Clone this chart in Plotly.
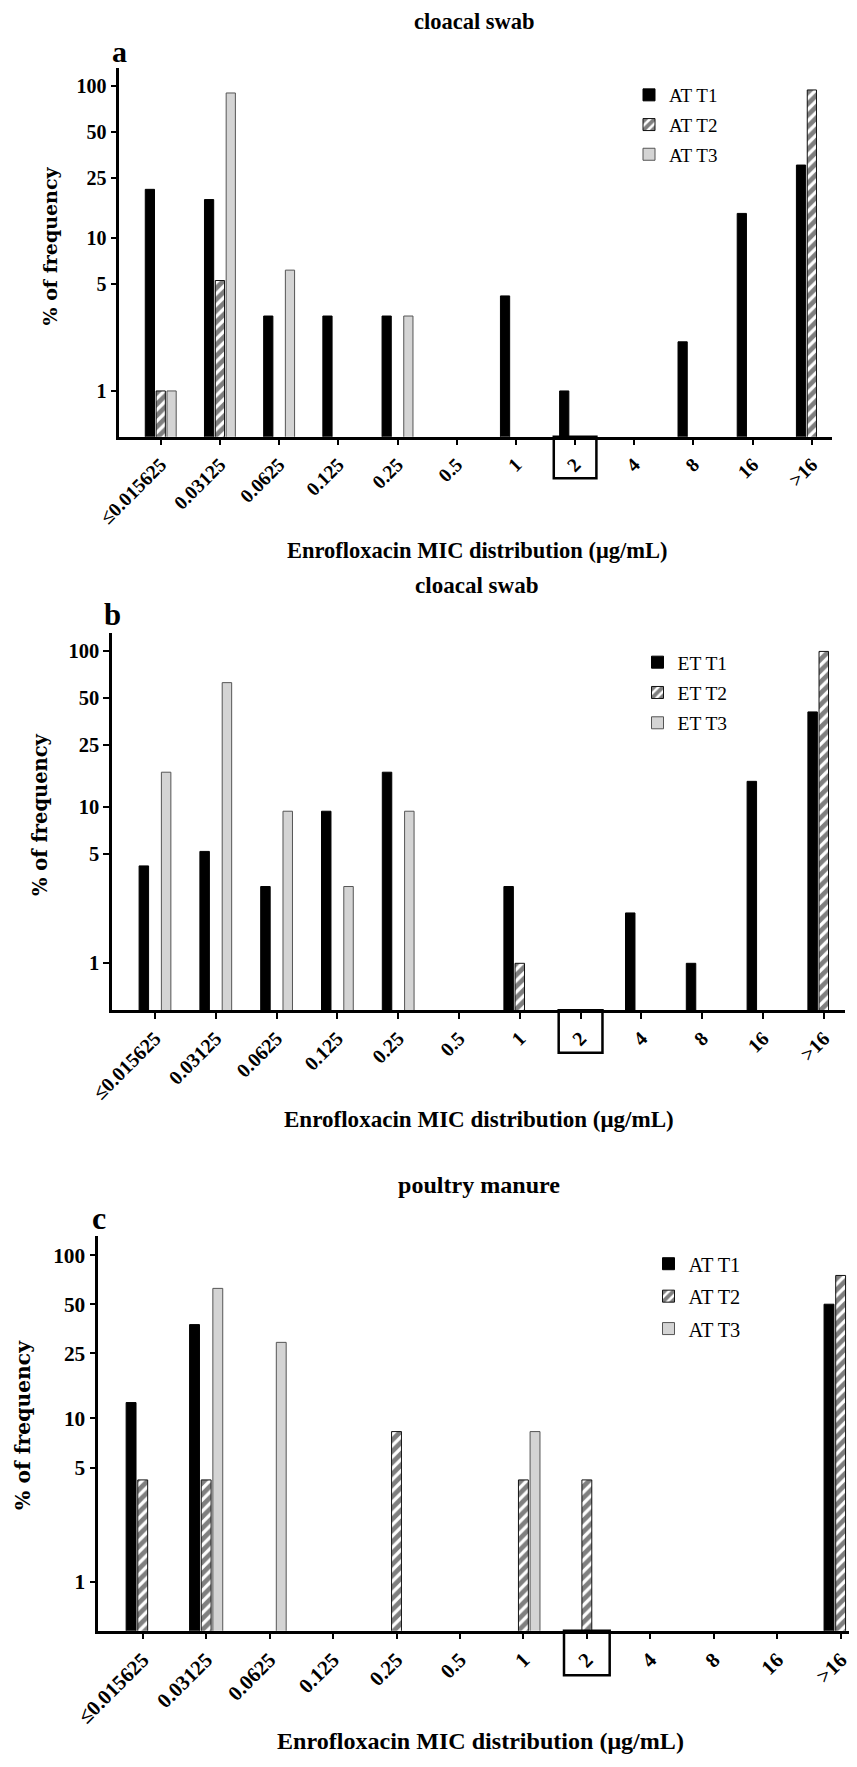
import plotly.graph_objects as go

# ---------------- data ----------------
categories = ["≤0.015625", "0.03125", "0.0625", "0.125", "0.25", "0.5",
              "1", "2", "4", "8", "16", ">16"]
ytick_vals = [1, 5, 10, 25, 50, 100]
ytick_text = ["1", "5", "10", "25", "50", "100"]

# panel a : cloacal swab, AT
a_names = ["AT T1", "AT T2", "AT T3"]
a_T1 = [21.0, 18.0, 3.1, 3.1, 3.1, None, 4.2, 1.0, None, 2.1, 14.6, 30.3]
a_T2 = [1.0, 5.3, None, None, None, None, None, None, None, None, None, 94.2]
a_T3 = [1.0, 90.0, 6.2, None, 3.1, None, None, None, None, None, None, None]

# panel b : cloacal swab, ET
b_names = ["ET T1", "ET T2", "ET T3"]
b_T1 = [4.2, 5.2, 3.1, 9.4, 16.7, None, 3.1, None, 2.1, 1.0, 14.6, 40.6]
b_T2 = [None, None, None, None, None, None, 1.0, None, None, None, None, 99.0]
b_T3 = [16.7, 62.5, 9.4, 3.1, 9.4, None, None, None, None, None, None, None]

# panel c : poultry manure, AT
c_names = ["AT T1", "AT T2", "AT T3"]
c_T1 = [12.5, 37.5, None, None, None, None, None, None, None, None, None, 50.0]
c_T2 = [4.2, 4.2, None, None, 8.3, None, 4.2, 4.2, None, None, None, 75.0]
c_T3 = [None, 62.5, 29.2, None, None, None, 8.3, None, None, None, None, None]

titles = ["cloacal swab", "cloacal swab", "poultry manure"]
letters = ["a", "b", "c"]
x_title = "Enrofloxacin MIC distribution (μg/mL)"
y_title = "% of frequency"
boxed_category = "2"

# ---------------- layout geometry ----------------
PAGE_W, PAGE_H = 857, 1767
OFF = 8                      # default body margin of the html page
W, H = PAGE_W - OFF, PAGE_H - OFF
SERIF = "Liberation Serif"


def py(px):
    return 1 - (px - OFF) / H


def pxx(px):
    return (px - OFF) / W


panels = [
    dict(series=[a_T1, a_T2, a_T3], names=a_names,
         xdom=[119.3, 831.7], ydom=[436.7, 68.3], xr=[-0.70, 11.335],
         title_xy=(474.6, 21), letter_xy=(119.5, 52), xt_xy=(477, 550),
         yt_xy=(50, 246.5), legend_xy=(629, 76), gap=2, fs=1.0),
    dict(series=[b_T1, b_T2, b_T3], names=b_names,
         xdom=[112.0, 845.0], ydom=[1010.2, 632.6], xr=[-0.707, 11.349],
         title_xy=(477, 585), letter_xy=(112.5, 615), xt_xy=(479, 1119),
         yt_xy=(41, 815), legend_xy=(637.5, 643), gap=2, fs=1.025),
    dict(series=[c_T1, c_T2, c_T3], names=c_names,
         xdom=[98.3, 857.0], ydom=[1630.7, 1236.1], xr=[-0.70, 11.258],
         title_xy=(479, 1185), letter_xy=(99, 1218), xt_xy=(481, 1741),
         yt_xy=(23, 1425), legend_xy=(648.5, 1244), gap=3, fs=1.07),
]

fig = go.Figure()

styles = [
    dict(color="black", line=dict(color="black", width=1)),
    dict(color="white", line=dict(color="#111111", width=1),
         pattern=dict(shape="/", fgcolor="black", bgcolor="white",
                      size=8, solidity=0.6)),
    dict(color="#d4d4d4", line=dict(color="#555555", width=1)),
]

annotations = []
shapes = []
layout_axes = {}

for p, pan in enumerate(panels):
    sfx = "" if p == 0 else str(p + 1)
    xa, ya = "x" + sfx, "y" + sfx
    leg = "legend" + sfx
    fs = pan["fs"]
    for s in range(3):
        fig.add_trace(go.Bar(
            x=categories, y=pan["series"][s], name=pan["names"][s],
            xaxis=xa, yaxis=ya, legend=leg, legendgroup=f"g{p}{s}",
            marker=styles[s], hoverinfo="x+y+name"))

    layout_axes["xaxis" + sfx] = dict(
        domain=[pxx(pan["xdom"][0]), min(1.0, pxx(pan["xdom"][1]))],
        range=pan["xr"], type="category", anchor=ya, automargin=False,
        showline=True, linecolor="black", linewidth=2.5,
        ticks="outside", ticklen=6, tickwidth=2, tickcolor="black",
        tickangle=-45, showgrid=False, zeroline=False,
        tickfont=dict(family=SERIF, size=19.5 * fs, color="black", weight="bold"),
    )
    layout_axes["yaxis" + sfx] = dict(
        domain=[py(pan["ydom"][0]), py(pan["ydom"][1])],
        type="log", range=[-0.30, 2.116], anchor=xa, automargin=False,
        tickvals=ytick_vals, ticktext=ytick_text,
        showline=True, linecolor="black", linewidth=2.5,
        ticks="outside", ticklen=6, tickwidth=2, tickcolor="black",
        showgrid=False, zeroline=False,
        tickfont=dict(family=SERIF, size=20 * fs, color="black", weight="bold"),
    )
    layout_axes[leg] = dict(
        x=pxx(pan["legend_xy"][0]), y=py(pan["legend_xy"][1]),
        xanchor="left", yanchor="top", bgcolor="rgba(0,0,0,0)",
        traceorder="grouped", tracegroupgap=pan["gap"],
        font=dict(family=SERIF, size=19 * fs, color="black"),
    )

    annotations += [
        dict(text=titles[p], x=pxx(pan["title_xy"][0]), y=py(pan["title_xy"][1]),
             xref="paper", yref="paper", showarrow=False, xanchor="center", yanchor="middle",
             font=dict(family=SERIF, size=22.5 * fs, color="black", weight="bold")),
        dict(text=letters[p], x=pxx(pan["letter_xy"][0]), y=py(pan["letter_xy"][1]),
             xref="paper", yref="paper", showarrow=False, xanchor="center", yanchor="middle",
             font=dict(family=SERIF, size=30 * fs, color="black", weight="bold")),
        dict(text=x_title, x=pxx(pan["xt_xy"][0]), y=py(pan["xt_xy"][1]),
             xref="paper", yref="paper", showarrow=False, xanchor="center", yanchor="middle",
             font=dict(family=SERIF, size=22.5 * fs, color="black", weight="bold")),
        dict(text=y_title, x=pxx(pan["yt_xy"][0]), y=py(pan["yt_xy"][1]), textangle=-90,
             xref="paper", yref="paper", showarrow=False, xanchor="center", yanchor="middle",
             font=dict(family="DejaVu Serif", size=19 * fs, color="black", weight="bold")),
    ]
    k = categories.index(boxed_category)
    shapes.append(dict(type="rect", xref=xa, yref=ya + " domain",
                       x0=k - 0.36, x1=k + 0.36, y0=0, y1=-0.113,
                       line=dict(color="black", width=2.5), fillcolor="rgba(0,0,0,0)"))

fig.update_layout(
    width=W, height=H, autosize=False,
    margin=dict(l=0, r=0, t=0, b=0, autoexpand=False),
    paper_bgcolor="white", plot_bgcolor="white",
    barmode="group", bargap=0.45, bargroupgap=0.15,
    showlegend=True,
    annotations=annotations, shapes=shapes,
    **layout_axes,
)

fig.write_html("out.html")
